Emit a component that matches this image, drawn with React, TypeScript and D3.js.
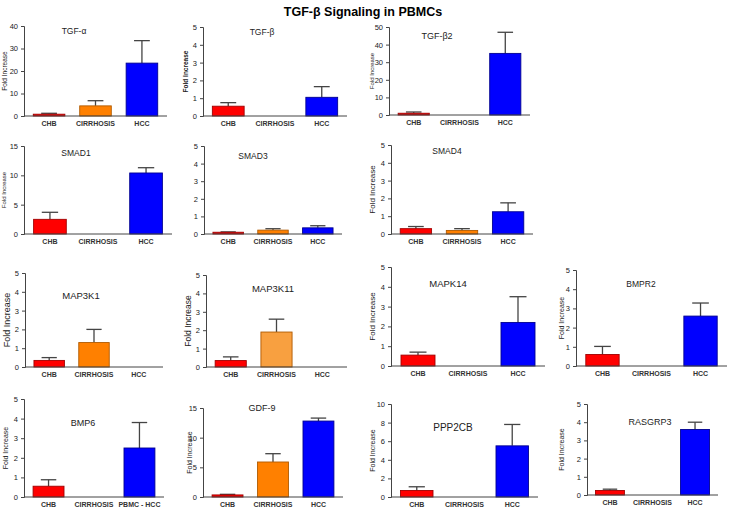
import React, { useRef, useEffect } from 'react';
import * as d3 from 'd3';

// groups on the x axis
const categories = ['CHB', 'CIRRHOSIS', 'HCC'];

// one entry per panel, read left to right, top to bottom
const genes = ['TGF-α', 'TGF-β', 'TGF-β2', 'SMAD1', 'SMAD3', 'SMAD4', 'MAP3K1', 'MAP3K11', 'MAPK14', 'BMPR2', 'BMP6', 'GDF-9', 'PPP2CB', 'RASGRP3'];
const yMaxes = [40, 5, 50, 15, 5, 5, 5, 5, 5, 5, 5, 15, 10, 5];
const tickSteps = [10, 1, 10, 5, 1, 1, 1, 1, 1, 1, 1, 5, 2, 1];

// means and SEM (null = no bar)
const chbMeans = [0.8, 0.55, 1.0, 2.5, 0.1, 0.3, 0.35, 0.35, 0.55, 0.6, 0.55, 0.35, 0.7, 0.25];
const chbErrors = [0.4, 0.2, 0.7, 1.2, 0.02, 0.12, 0.15, 0.2, 0.15, 0.42, 0.33, 0.1, 0.4, 0.07];
const cirrMeans = [4.5, null, null, null, 0.22, 0.2, 1.3, 1.9, null, null, null, 5.9, null, null];
const cirrErrors = [2.3, null, null, null, 0.08, 0.1, 0.7, 0.7, null, null, null, 1.4, null, null];
const hccMeans = [23.5, 1.05, 35, 10.4, 0.35, 1.25, null, null, 2.2, 2.6, 2.5, 12.8, 5.5, 3.6];
const hccErrors = [10, 0.6, 12, 0.9, 0.12, 0.5, null, null, 1.3, 0.68, 1.3, 0.5, 2.3, 0.4];

// x labels differ in one panel
const thirdLabels = ['HCC', 'HCC', 'HCC', 'HCC', 'HCC', 'HCC', 'HCC', 'HCC', 'HCC', 'HCC', 'PBMC - HCC', 'HCC', 'HCC', 'HCC'];
const yLabelShown = [true, true, true, true, false, true, true, true, true, true, true, true, true, true];

// panel geometry (axis origin x, top tick y, baseline y, axis length) and text sizes
const layout = [
  { x: 24, top: 26, bottom: 116, w: 143, tx: 74, ty: 34, ts: 8.5, lx: 5, ls: 6.5, lb: false },
  { x: 203, top: 27, bottom: 116, w: 144, tx: 262, ty: 35, ts: 8.5, lx: 186, ls: 6.5, lb: true },
  { x: 389, top: 27, bottom: 115, w: 141, tx: 437, ty: 39, ts: 9, lx: 372, ls: 6, lb: false },
  { x: 24, top: 146, bottom: 234, w: 148, tx: 76, ty: 156, ts: 8.5, lx: 4, ls: 6, lb: false },
  { x: 204, top: 146, bottom: 234, w: 138, tx: 253, ty: 159, ts: 8.5, lx: 0, ls: 6, lb: false },
  { x: 391, top: 145, bottom: 234, w: 142, tx: 447, ty: 154, ts: 8.5, lx: 372, ls: 8, lb: false },
  { x: 25, top: 273, bottom: 367, w: 138, tx: 81, ty: 299, ts: 9.5, lx: 7, ls: 9, lb: false },
  { x: 206, top: 275, bottom: 367, w: 141, tx: 273, ty: 292, ts: 9.5, lx: 188, ls: 8.5, lb: false },
  { x: 391, top: 267, bottom: 366, w: 154, tx: 448, ty: 287, ts: 9.5, lx: 372, ls: 8, lb: false },
  { x: 576, top: 270, bottom: 366, w: 151, tx: 641, ty: 287, ts: 8.5, lx: 562, ls: 7, lb: false },
  { x: 24, top: 399, bottom: 497, w: 140, tx: 83, ty: 426, ts: 9, lx: 6, ls: 7, lb: false },
  { x: 203, top: 408, bottom: 497, w: 140, tx: 262, ty: 411, ts: 9, lx: 190, ls: 7, lb: false },
  { x: 391, top: 404, bottom: 497, w: 147, tx: 453, ty: 431, ts: 10, lx: 373, ls: 7, lb: false },
  { x: 587, top: 404, bottom: 495, w: 131, tx: 650, ty: 425, ts: 9, lx: 562, ls: 7, lb: false },
];

const fills = ['#ff0000', '#ff8000', '#0000ff'];
const strokes = ['#a00000', '#b05a00', '#000090'];
const cirrAlt = '#f8a040'; // MAP3K11 uses a lighter orange

const FONT = 'Arial, "Liberation Sans", Helvetica, sans-serif';

const App: React.FC = () => {
  const svgRef = useRef<SVGSVGElement | null>(null);

  useEffect(() => {
    if (!svgRef.current) return;
    const svg = d3.select(svgRef.current);
    svg.selectAll('*').remove();

    svg.append('rect').attr('width', 729).attr('height', 507).attr('fill', '#fff');

    svg.append('text')
      .attr('x', 363).attr('y', 16)
      .attr('text-anchor', 'middle')
      .style('font-family', FONT).style('font-weight', 'bold').style('font-size', '12.5px')
      .text('TGF-β Signaling in PBMCs');

    genes.forEach((gene, i) => {
      const L = layout[i];
      const g = svg.append('g');

      const x = d3.scaleBand<string>()
        .domain(categories)
        .range([L.x, L.x + L.w])
        .paddingInner(0.32)
        .paddingOuter(0.2);
      const y = d3.scaleLinear().domain([0, yMaxes[i]]).range([L.bottom, L.top]);

      const means = [chbMeans[i], cirrMeans[i], hccMeans[i]];
      const errs = [chbErrors[i], cirrErrors[i], hccErrors[i]];

      // error bars first so bars sit on top of the stem
      categories.forEach((c, k) => {
        const m = means[k];
        const e = errs[k];
        if (m == null || e == null) return;
        const cx = (x(c) as number) + x.bandwidth() / 2;
        const half = x.bandwidth() / 4;
        g.append('line')
          .attr('x1', cx).attr('x2', cx)
          .attr('y1', y(m)).attr('y2', y(m + e))
          .attr('stroke', '#444').attr('stroke-width', 1.3);
        g.append('line')
          .attr('x1', cx - half).attr('x2', cx + half)
          .attr('y1', y(m + e)).attr('y2', y(m + e))
          .attr('stroke', '#444').attr('stroke-width', 1.3);
      });

      categories.forEach((c, k) => {
        const m = means[k];
        if (m == null) return;
        const fill = k === 1 && gene === 'MAP3K11' ? cirrAlt : fills[k];
        g.append('rect')
          .attr('x', x(c) as number)
          .attr('width', x.bandwidth())
          .attr('y', y(m))
          .attr('height', Math.max(1.5, y(0) - y(m)))
          .attr('fill', fill)
          .attr('stroke', strokes[k])
          .attr('stroke-width', 0.9);
      });

      // y axis
      const ticks = d3.range(0, yMaxes[i] + 0.001, tickSteps[i]);
      const yAxis = g.append('g')
        .attr('transform', `translate(${L.x},0)`)
        .call(d3.axisLeft(y).tickValues(ticks).tickSize(3).tickPadding(3).tickFormat(d3.format('d')));
      yAxis.select('.domain').attr('stroke', '#444');
      yAxis.selectAll('.tick line').attr('stroke', '#444');
      yAxis.selectAll('text')
        .style('font-family', FONT).style('font-size', '7.5px').attr('fill', '#222');

      // x axis
      const xAxis = g.append('g')
        .attr('transform', `translate(0,${L.bottom})`)
        .call(d3.axisBottom(x).tickSize(0).tickPadding(5)
          .tickFormat((d) => (d === 'HCC' ? thirdLabels[i] : d)));
      xAxis.select('.domain').attr('stroke', '#444').attr('d', `M${L.x},0H${L.x + L.w}`);
      xAxis.selectAll('text')
        .style('font-family', FONT).style('font-size', '7px').style('font-weight', 'bold')
        .attr('fill', '#333');

      // panel title
      g.append('text')
        .attr('x', L.tx).attr('y', L.ty)
        .attr('text-anchor', 'middle')
        .style('font-family', FONT).style('font-size', `${L.ts}px`)
        .attr('fill', '#222')
        .text(gene);

      if (yLabelShown[i]) {
        g.append('text')
          .attr('transform', `translate(${L.lx},${(L.top + L.bottom) / 2}) rotate(-90)`)
          .attr('text-anchor', 'middle')
          .attr('dy', '0.35em')
          .style('font-family', FONT).style('font-size', `${L.ls}px`)
          .style('font-weight', L.lb ? 'bold' : 'normal')
          .attr('fill', '#222')
          .text('Fold Increase');
      }
    });
  }, []);

  return (
    <svg
      ref={svgRef}
      width={729}
      height={507}
      style={{ position: 'absolute', left: 0, top: 0 }}
    />
  );
};

export default App;
